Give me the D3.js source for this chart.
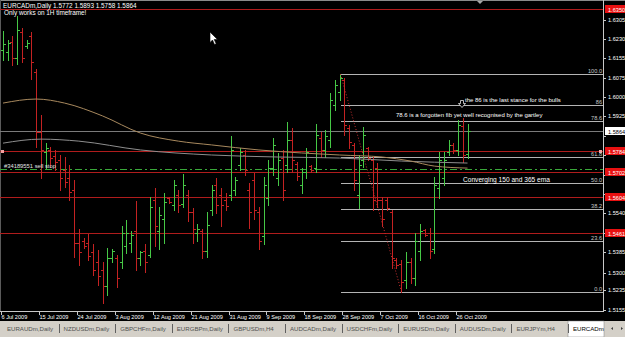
<!DOCTYPE html>
<html>
<head>
<meta charset="utf-8">
<script src="https://cdn.jsdelivr.net/npm/d3@7"></script>
<style>
  html, body { margin: 0; padding: 0; background: #000; }
  svg { display: block; font-family: 'Liberation Sans', Arial, sans-serif; }
</style>
</head>
<body>
<div id="chart"></div>
<script>
// daily bars, broker sends a Sunday bar but no Saturday
const dates = d3.utcDay.range(new Date(Date.UTC(2009, 6, 6)), new Date(Date.UTC(2009, 9, 29)))
  .filter(d => d.getUTCDay() !== 6);

const opens = [
  1.6187, 1.6179, 1.6218, 1.6155, 1.6258, 1.6202, 1.6242, 1.6099, 1.5861, 1.5782,
  1.5790, 1.5766, 1.5750, 1.5710, 1.5678, 1.5630, 1.5422, 1.5430, 1.5422, 1.5385,
  1.5345, 1.5313, 1.5250, 1.5361, 1.5361, 1.5345, 1.5410, 1.5422, 1.5470, 1.5361,
  1.5390, 1.5373, 1.5590, 1.5470, 1.5518, 1.5598, 1.5570, 1.5610, 1.5574, 1.5610,
  1.5542, 1.5462, 1.5470, 1.5390, 1.5550, 1.5650, 1.5610, 1.5590, 1.5610, 1.5630,
  1.5730, 1.5770, 1.5630, 1.5670, 1.5542, 1.5450, 1.5598, 1.5718, 1.5678, 1.5758,
  1.5730, 1.5829, 1.5734, 1.5650, 1.5702, 1.5726, 1.5718, 1.5837, 1.5790, 1.5829,
  1.5968, 1.6020, 1.6068, 1.5877, 1.5810, 1.5610, 1.5750, 1.5798, 1.5750, 1.5718,
  1.5590, 1.5590, 1.5542, 1.5353, 1.5337, 1.5274, 1.5345, 1.5282, 1.5390, 1.5474,
  1.5462, 1.5398, 1.5638, 1.5678, 1.5782, 1.5810, 1.5790, 1.5885, 1.5772,
];
const highs = [
  1.6262, 1.6226, 1.6242, 1.6321, 1.6274, 1.6226, 1.6258, 1.6111, 1.5929, 1.5817,
  1.5802, 1.5790, 1.5770, 1.5762, 1.5730, 1.5670, 1.5478, 1.5441, 1.5458, 1.5418,
  1.5394, 1.5345, 1.5402, 1.5398, 1.5373, 1.5490, 1.5514, 1.5470, 1.5586, 1.5390,
  1.5418, 1.5602, 1.5638, 1.5562, 1.5618, 1.5602, 1.5670, 1.5630, 1.5694, 1.5630,
  1.5558, 1.5498, 1.5478, 1.5542, 1.5650, 1.5678, 1.5638, 1.5618, 1.5845, 1.5682,
  1.5798, 1.5790, 1.5658, 1.5698, 1.5562, 1.5682, 1.5750, 1.5837, 1.5778, 1.5790,
  1.5901, 1.5877, 1.5742, 1.5718, 1.5798, 1.5730, 1.5893, 1.5861, 1.5869, 1.6016,
  1.6068, 1.6091, 1.6075, 1.5889, 1.5817, 1.5770, 1.5881, 1.5802, 1.5762, 1.5738,
  1.5602, 1.5602, 1.5550, 1.5361, 1.5353, 1.5385, 1.5361, 1.5462, 1.5498, 1.5478,
  1.5482, 1.5682, 1.5782, 1.5782, 1.5829, 1.5817, 1.5909, 1.5917, 1.5893,
];
const lows = [
  1.6147, 1.6147, 1.6127, 1.6131, 1.6139, 1.6195, 1.6071, 1.5802, 1.5678, 1.5718,
  1.5722, 1.5710, 1.5630, 1.5642, 1.5590, 1.5365, 1.5333, 1.5402, 1.5353, 1.5294,
  1.5254, 1.5183, 1.5214, 1.5345, 1.5246, 1.5321, 1.5381, 1.5385, 1.5313, 1.5333,
  1.5305, 1.5365, 1.5410, 1.5398, 1.5422, 1.5578, 1.5550, 1.5542, 1.5562, 1.5510,
  1.5422, 1.5430, 1.5361, 1.5365, 1.5530, 1.5538, 1.5490, 1.5550, 1.5590, 1.5610,
  1.5710, 1.5690, 1.5482, 1.5518, 1.5398, 1.5418, 1.5570, 1.5690, 1.5650, 1.5590,
  1.5702, 1.5702, 1.5670, 1.5618, 1.5678, 1.5702, 1.5702, 1.5762, 1.5762, 1.5802,
  1.5949, 1.5988, 1.5849, 1.5798, 1.5630, 1.5558, 1.5722, 1.5750, 1.5550, 1.5562,
  1.5490, 1.5550, 1.5321, 1.5321, 1.5226, 1.5242, 1.5262, 1.5254, 1.5353, 1.5450,
  1.5361, 1.5381, 1.5598, 1.5650, 1.5770, 1.5778, 1.5770, 1.5742, 1.5758,
];
const closes = [
  1.6210, 1.6214, 1.6155, 1.6266, 1.6155, 1.6214, 1.6139, 1.5861, 1.5790, 1.5798,
  1.5758, 1.5742, 1.5678, 1.5662, 1.5622, 1.5422, 1.5385, 1.5410, 1.5369, 1.5313,
  1.5290, 1.5250, 1.5361, 1.5390, 1.5282, 1.5462, 1.5462, 1.5454, 1.5361, 1.5385,
  1.5345, 1.5562, 1.5490, 1.5530, 1.5582, 1.5582, 1.5650, 1.5570, 1.5650, 1.5542,
  1.5478, 1.5478, 1.5390, 1.5494, 1.5630, 1.5570, 1.5570, 1.5566, 1.5790, 1.5670,
  1.5782, 1.5710, 1.5542, 1.5550, 1.5430, 1.5650, 1.5718, 1.5810, 1.5750, 1.5630,
  1.5829, 1.5750, 1.5686, 1.5702, 1.5782, 1.5710, 1.5849, 1.5790, 1.5845, 1.5988,
  1.6048, 1.6075, 1.5889, 1.5821, 1.5670, 1.5730, 1.5849, 1.5758, 1.5590, 1.5590,
  1.5518, 1.5558, 1.5361, 1.5333, 1.5266, 1.5345, 1.5282, 1.5430, 1.5470, 1.5454,
  1.5390, 1.5650, 1.5750, 1.5750, 1.5810, 1.5790, 1.5889, 1.5770, 1.5864,
];

// moving averages (bar index, price)
const emaTanBars = [0, 7, 13, 21, 29, 37, 44, 54, 63, 71, 80, 86, 91, 98];
const emaTanValues = [1.5976, 1.5992, 1.5976, 1.5925, 1.5857, 1.5825, 1.5810, 1.5790, 1.5778, 1.5770, 1.5762, 1.5746, 1.5726, 1.5718];
const emaGreyBars = [0, 8, 16, 29, 44, 58, 71, 84, 98];
const emaGreyValues = [1.5817, 1.5833, 1.5825, 1.5790, 1.5770, 1.5762, 1.5758, 1.5746, 1.5738];

const xTickLabels = ['6 Jul 2009', '15 Jul 2009', '24 Jul 2009', '3 Aug 2009', '12 Aug 2009', '21 Aug 2009',
  '31 Aug 2009', '9 Sep 2009', '18 Sep 2009', '28 Sep 2009', '7 Oct 2009', '16 Oct 2009', '26 Oct 2009'];
const yTickLabels = ['1.6305', '1.6230', '1.6155', '1.6075', '1.6000', '1.5925', '1.5845', '1.5770',
  '1.5690', '1.5615', '1.5540', '1.5460', '1.5385', '1.5300', '1.5235', '1.5155'];

const redLines = [1.6350, 1.5784, 1.5702, 1.5604, 1.5461];
const bidPrice = 1.5864;
const sellStopPrice = 1.5714;

const fibLevels = [0, 23.6, 38.2, 50, 61.8, 78.6, 86, 100];
const fibLabels = ['0.0', '23.6', '38.2', '50.0', '61.8', '78.6', '86', '100.0'];
const fibHighBar = 71;
const fibLowBar = 84;

const tabs = ['EURAUDm,Daily', 'NZDUSDm,Daily', 'GBPCHFm,Daily', 'EURGBPm,Daily', 'GBPUSDm,H4', 'AUDCADm,Daily',
  'USDCHFm,Daily', 'EURUSDm,Daily', 'AUDUSDm,Daily', 'EURJPYm,H4', 'EURCADm'];

const Chart = {};

Chart.config = function config() {
  const vm = this;
  vm.width = 625;
  vm.height = 337;
  vm.plotRight = 603;
  vm.plotBottom = 311;
  vm.step = 4.74;
  vm.up = '#46c846';
  vm.down = '#c42222';
  vm.scales();
};

Chart.scales = function scales() {
  const vm = this;
  const start = 3 - vm.step / 2;
  vm.x = d3.scaleBand().domain(dates).range([start, start + dates.length * vm.step]).padding(0);
  vm.y = d3.scaleLinear().domain([1.5151, 1.6385]).range([vm.plotBottom, 0]);
  vm.cx = i => Math.round(vm.x(dates[i]) + vm.x.bandwidth() / 2) + 0.5;
  vm.py = v => Math.round(vm.y(v)) + 0.5;
};

Chart.draw = function draw() {
  const vm = this;
  const svg = d3.select('#chart').append('svg')
    .attr('width', vm.width)
    .attr('height', vm.height);

  svg.append('rect').attr('width', vm.width).attr('height', vm.height).attr('fill', '#000');

  const g = svg.append('g').attr('shape-rendering', 'crispEdges');

  // frame
  g.append('line').attr('x1', 0).attr('x2', vm.width).attr('y1', 0.5).attr('y2', 0.5).attr('stroke', '#8a8a8a');
  g.append('line').attr('x1', 0.5).attr('x2', 0.5).attr('y1', 0).attr('y2', vm.plotBottom).attr('stroke', '#5a5a5a');

  // bid line
  g.append('line').attr('x1', 0).attr('x2', vm.plotRight).attr('y1', vm.py(bidPrice)).attr('y2', vm.py(bidPrice))
    .attr('stroke', '#7a7a7a');

  // fibonacci retracement
  const fHigh = highs[fibHighBar];
  const fLow = lows[fibLowBar];
  const fibX = vm.cx(fibHighBar);
  g.selectAll('.fib').data(fibLevels).join('line')
    .attr('class', 'fib')
    .attr('x1', fibX).attr('x2', vm.plotRight)
    .attr('y1', d => vm.py(fLow + (fHigh - fLow) * d / 100))
    .attr('y2', d => vm.py(fLow + (fHigh - fLow) * d / 100))
    .attr('stroke', '#b4b4b4');

  // red horizontal lines
  g.selectAll('.hline').data(redLines).join('line')
    .attr('class', 'hline')
    .attr('x1', 0).attr('x2', vm.plotRight)
    .attr('y1', d => vm.py(d)).attr('y2', d => vm.py(d))
    .attr('stroke', '#b01c1c');

  // pending sell stop
  g.append('line').attr('x1', 0).attr('x2', vm.plotRight)
    .attr('y1', vm.py(sellStopPrice)).attr('y2', vm.py(sellStopPrice))
    .attr('stroke', '#3aa83a').attr('stroke-dasharray', '7,3,2,3');

  // moving averages
  const maLine = (bars, vals) => d3.line()
    .x((d, k) => vm.x(dates[bars[k]]) + vm.x.bandwidth() / 2)
    .y(d => vm.y(d))
    .curve(d3.curveMonotoneX)(vals);
  svg.append('path').attr('d', maLine(emaGreyBars, emaGreyValues))
    .attr('fill', 'none').attr('stroke', '#8e8e8e').attr('stroke-width', 1);
  svg.append('path').attr('d', maLine(emaTanBars, emaTanValues))
    .attr('fill', 'none').attr('stroke', '#a8895e').attr('stroke-width', 1);

  // fib trend line (dotted)
  svg.append('line')
    .attr('x1', fibX).attr('y1', vm.y(fHigh))
    .attr('x2', vm.cx(fibLowBar)).attr('y2', vm.y(fLow))
    .attr('stroke', '#c83030').attr('stroke-dasharray', '1,2');

  // OHLC bars
  const idx = d3.range(dates.length);
  g.selectAll('.bar').data(idx).join('path')
    .attr('class', 'bar')
    .attr('d', (i) => {
      const c = vm.cx(i);
      return `M${c},${vm.py(highs[i]) - 0.5}V${vm.py(lows[i]) + 0.5}`
        + `M${c - 2.5},${vm.py(opens[i])}H${c}`
        + `M${c},${vm.py(closes[i])}H${c + 2.5}`;
    })
    .attr('fill', 'none')
    .attr('stroke', i => (closes[i] >= opens[i] ? vm.up : vm.down));

  // line anchor markers
  g.append('rect').attr('x', 1).attr('y', vm.py(redLines[1]) - 1.5).attr('width', 3).attr('height', 3)
    .attr('fill', '#f0a0a0');
  g.append('rect').attr('x', 599).attr('y', vm.py(redLines[1]) - 1.5).attr('width', 3).attr('height', 3)
    .attr('fill', '#f0a0a0');

  // fib level captions
  svg.selectAll('.fibtxt').data(fibLevels).join('text')
    .attr('class', 'fibtxt')
    .attr('x', vm.plotRight - 1)
    .attr('y', d => vm.py(fLow + (fHigh - fLow) * d / 100) - 1.5)
    .attr('text-anchor', 'end')
    .attr('font-size', 5.6)
    .attr('fill', '#c8c8c8')
    .text((d, k) => fibLabels[k]);

  // header
  svg.append('text').attr('x', 3).attr('y', 8).attr('font-size', 6.4).attr('fill', '#fff')
    .text('EURCADm,Daily  1.5772 1.5893 1.5758 1.5864');
  svg.append('text').attr('x', 4).attr('y', 15).attr('font-size', 6.4).attr('fill', '#fff')
    .text('Only works on 1H timeframe!');

  // annotations
  svg.append('text').attr('x', 4).attr('y', 168).attr('font-size', 5.8).attr('fill', '#e0e0e0')
    .text('#34189551 sell stop');
  svg.append('text').attr('x', 465).attr('y', 102).attr('font-size', 6).attr('fill', '#fff')
    .text('the 86 is the last stance for the bulls');
  svg.append('text').attr('x', 396).attr('y', 117).attr('font-size', 6).attr('fill', '#fff')
    .text('78.6 is a forgotten fib yet well recognised by the gartley');
  svg.append('text').attr('x', 463).attr('y', 182).attr('font-size', 6.6).attr('fill', '#fff')
    .text('Converging 150 and 365 ema');

  // hollow down arrow object
  svg.append('path')
    .attr('d', 'M460.5,100.5h3v3h2l-3.5,4l-3.5,-4h2z')
    .attr('fill', '#000').attr('stroke', '#e8e8e8').attr('stroke-width', 0.8);

  // chart shift marker and mouse cursor
  svg.append('path').attr('d', 'M477,1L483,1L480,4Z').attr('fill', '#a8a8a8');
  svg.append('path').attr('d', 'M210,32L210,42.5L212.5,40L214.5,44.5L216.2,43.8L214.2,39.5L217.5,39.5Z')
    .attr('fill', '#fff').attr('stroke', '#000').attr('stroke-width', 0.6);

  // right price axis
  svg.append('rect').attr('x', vm.plotRight + 1).attr('y', 1).attr('width', vm.width - vm.plotRight)
    .attr('height', vm.plotBottom).attr('fill', '#000');
  g.append('line').attr('x1', vm.plotRight + 0.5).attr('x2', vm.plotRight + 0.5)
    .attr('y1', 0).attr('y2', vm.plotBottom + 1).attr('stroke', '#c8c8c8');

  // tick labels hidden behind a price tag are not drawn
  const tagPrices = redLines.concat([bidPrice]);
  const freeTicks = yTickLabels.filter(t => tagPrices.every(p => Math.abs(vm.y(+t) - vm.y(p)) > 7));
  const yAxis = svg.append('g');
  yAxis.selectAll('line').data(yTickLabels).join('line')
    .attr('x1', vm.plotRight).attr('x2', vm.plotRight + 3)
    .attr('y1', d => vm.py(+d)).attr('y2', d => vm.py(+d))
    .attr('stroke', '#c8c8c8').attr('shape-rendering', 'crispEdges');
  yAxis.selectAll('text').data(freeTicks).join('text')
    .attr('x', vm.plotRight + 5)
    .attr('y', d => vm.y(+d) + 2)
    .attr('font-size', 5.6)
    .attr('fill', '#fff')
    .text(d => d);

  // price labels of the red lines
  const tags = svg.append('g');
  redLines.forEach((p) => {
    tags.append('rect').attr('x', vm.plotRight + 2).attr('y', vm.py(p) - 4.5)
      .attr('width', 20).attr('height', 8).attr('fill', '#e81010');
    tags.append('text').attr('x', vm.plotRight + 5).attr('y', vm.py(p) + 2)
      .attr('font-size', 5.6).attr('fill', '#fff').text(p.toFixed(4));
  });
  tags.append('rect').attr('x', vm.plotRight + 2).attr('y', vm.py(bidPrice) - 4.5)
    .attr('width', 20).attr('height', 8).attr('fill', '#fff');
  tags.append('text').attr('x', vm.plotRight + 5).attr('y', vm.py(bidPrice) + 2)
    .attr('font-size', 5.6).attr('fill', '#000').text(bidPrice.toFixed(4));

  // time axis
  g.append('line').attr('x1', 0).attr('x2', vm.plotRight + 1)
    .attr('y1', vm.plotBottom + 0.5).attr('y2', vm.plotBottom + 0.5).attr('stroke', '#c8c8c8');
  const fmt = d3.utcFormat('%-d %b %Y');
  const tickIdx = xTickLabels.map(l => dates.findIndex(d => fmt(d) === l));
  const xAxis = svg.append('g');
  xAxis.selectAll('line').data(tickIdx).join('line')
    .attr('x1', i => vm.cx(i) - 2).attr('x2', i => vm.cx(i) - 2)
    .attr('y1', vm.plotBottom).attr('y2', vm.plotBottom + 4)
    .attr('stroke', '#c8c8c8').attr('shape-rendering', 'crispEdges');
  xAxis.selectAll('text').data(tickIdx).join('text')
    .attr('x', i => vm.cx(i) - 2)
    .attr('y', vm.plotBottom + 8)
    .attr('font-size', 5.6)
    .attr('fill', '#fff')
    .text((i, k) => xTickLabels[k]);

  // symbol tabs
  const tabY = 321;
  svg.append('rect').attr('x', 0).attr('y', tabY).attr('width', vm.width).attr('height', vm.height - tabY)
    .attr('fill', '#d4d0c8');
  svg.append('rect').attr('x', 568).attr('y', tabY).attr('width', 36).attr('height', vm.height - tabY)
    .attr('fill', '#fff').attr('stroke', '#808080').attr('stroke-width', 0.5);
  const tabStep = 56.6;
  svg.append('g').selectAll('text').data(tabs).join('text')
    .attr('x', (d, k) => 7 + k * tabStep)
    .attr('y', 331)
    .attr('font-size', 6.1)
    .attr('fill', (d, k) => (k === tabs.length - 1 ? '#000' : '#505050'))
    .text(d => d);
  svg.append('g').selectAll('line').data(d3.range(tabs.length - 1)).join('line')
    .attr('x1', k => Math.round(7 + (k + 1) * tabStep - 5) + 0.5)
    .attr('x2', k => Math.round(7 + (k + 1) * tabStep - 5) + 0.5)
    .attr('y1', 324).attr('y2', 333)
    .attr('stroke', '#606060').attr('shape-rendering', 'crispEdges');
  svg.append('path').attr('d', 'M613,327l-2,1.5l2,1.5z M621,327l2,1.5l-2,1.5z').attr('fill', '#404040');

  return vm;
};

Chart.config();
Chart.draw();
</script>
</body>
</html>
